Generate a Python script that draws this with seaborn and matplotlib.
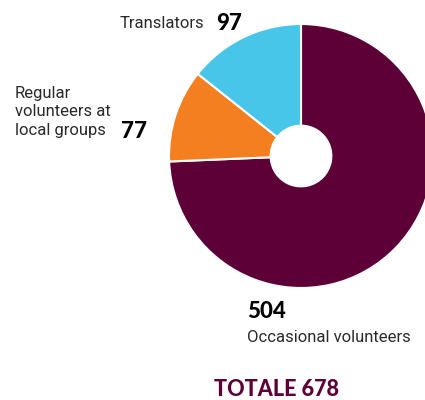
import matplotlib
matplotlib.use("Agg")
import matplotlib.pyplot as plt
import seaborn as sns

categories = ["Occasional volunteers", "Regular\nvolunteers at\nlocal groups", "Translators"]
values = [504, 77, 97]
colors = ["#5c0037", "#f47f20", "#48c6ea"]
total_label = "TOTALE 678"

sns.set_theme(style="white")
plt.rcParams['font.family'] = ['Roboto', 'DejaVu Sans']

W, H = 425, 400
fig = plt.figure(figsize=(W / 100, H / 100), dpi=100)
cx, cy, r = 301, 156, 132
ax = fig.add_axes([(cx - r) / W, 1 - (cy + r) / H, 2 * r / W, 2 * r / H])
ax.pie(values, colors=colors, startangle=90, counterclock=False,
       wedgeprops=dict(width=1 - 0.23, edgecolor="white", linewidth=1.5),
       radius=1.0)
ax.set_xlim(-1, 1)
ax.set_ylim(-1, 1)
ax.set_aspect("equal")
ax.axis("off")

def t(x, y, s, **kw):
    fig.text(x / W, 1 - y / H, s, **kw)

lab_kw = dict(fontsize=12, color="#2a2a2a", va="center", ha="left")
num_kw = dict(fontsize=16, color="black", va="center", ha="left",
              fontweight="black", family=["Lato", "DejaVu Sans"])

t(120, 23, categories[2], **lab_kw)
t(216, 23, str(values[2]), **num_kw)
t(15, 112, categories[1], linespacing=1.32, **lab_kw)
t(121, 132, str(values[1]), **num_kw)
t(247, 312, str(values[0]), **num_kw)
t(247, 337, categories[0], **lab_kw)
t(276, 389, total_label, fontsize=15.5, color="#5c0037", va="center", ha="center",
  fontweight="black", family=["Lato", "DejaVu Sans"])

fig.savefig("out.png", dpi=100)
